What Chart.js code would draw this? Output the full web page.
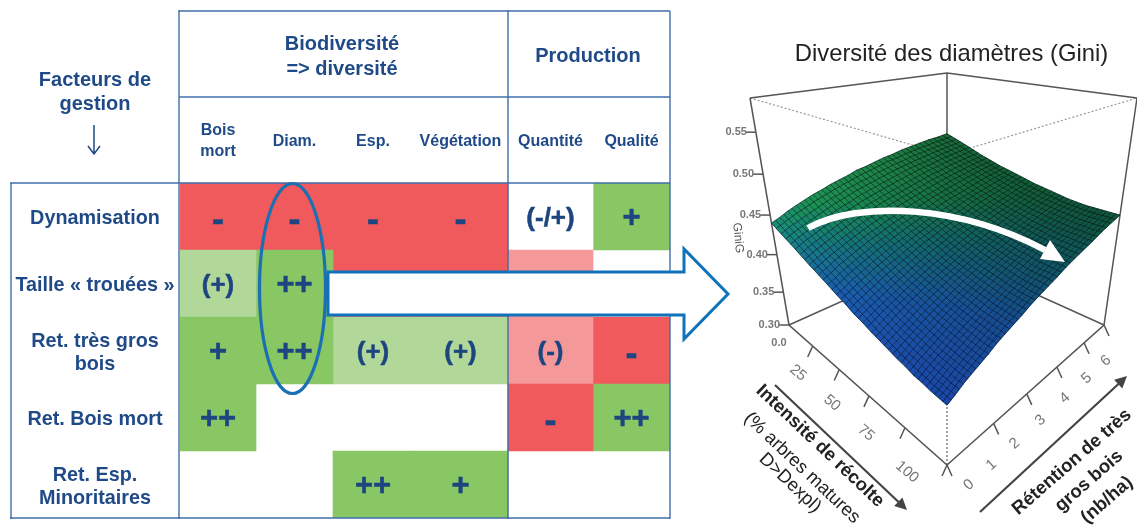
<!DOCTYPE html>
<html>
<head>
<meta charset="utf-8">
<title>Facteurs de gestion</title>
<script src="https://cdn.jsdelivr.net/npm/chart.js@4"></script>
<style>
  html, body { margin: 0; padding: 0; background: #fff; overflow: hidden; width: 1137px; height: 527px; }
  canvas { position: absolute; top: 0; }
</style>
</head>
<body>
<canvas id="tableChart" width="1137" height="527" style="left:0;width:1137px;height:527px"></canvas>
<canvas id="surfaceChart" width="503" height="527" style="left:700px;width:503px;height:527px"></canvas>
<script>
// table data
const factors = ['Dynamisation', 'Taille « trouées »', ['Ret. très gros', 'bois'], 'Ret. Bois mort', ['Ret. Esp.', 'Minoritaires']];
const responses = [['Bois', 'mort'], 'Diam.', 'Esp.', 'Végétation', 'Quantité', 'Qualité'];
const effects = [
  ['-', '-', '-', '-', '(-/+)', '+'],
  ['(+)', '++', '-', '-', '(-)', ''],
  ['+', '++', '(+)', '(+)', '(-)', '-'],
  ['++', '', '', '', '-', '++'],
  ['', '', '++', '+', '', '']
];

// surface data: GiniG x 1000, rows = harvest 0..100 by 5, columns = retention 0..6 by 0.3
const harvestGrid = [0, 5, 10, 15, 20, 25, 30, 35, 40, 45, 50, 55, 60, 65, 70, 75, 80, 85, 90, 95, 100];
const retentionGrid = [0, 0.3, 0.6, 0.9, 1.2, 1.5, 1.8, 2.1, 2.4, 2.7, 3, 3.3, 3.6, 3.9, 4.2, 4.5, 4.8, 5.1, 5.4, 5.7, 6];
const giniG = [
  [440, 444, 449, 453, 457, 461, 464, 468, 471, 474, 478, 480, 483, 486, 488, 491, 493, 495, 497, 498, 500],
  [433, 438, 442, 446, 450, 454, 458, 461, 465, 468, 471, 474, 477, 480, 482, 485, 487, 489, 491, 493, 495],
  [427, 432, 436, 440, 444, 448, 452, 455, 459, 462, 465, 468, 471, 474, 477, 479, 481, 484, 486, 488, 490],
  [421, 426, 430, 434, 438, 442, 446, 449, 453, 456, 459, 462, 465, 468, 471, 474, 476, 479, 481, 483, 485],
  [415, 420, 424, 428, 432, 436, 440, 444, 447, 451, 454, 457, 460, 463, 466, 469, 471, 474, 476, 478, 480],
  [410, 414, 419, 423, 427, 431, 435, 438, 442, 445, 449, 452, 455, 458, 461, 464, 467, 469, 472, 474, 476],
  [405, 409, 414, 418, 422, 426, 430, 433, 437, 441, 444, 447, 450, 454, 457, 459, 462, 465, 468, 470, 472],
  [400, 404, 409, 413, 417, 421, 425, 429, 432, 436, 439, 443, 446, 449, 452, 455, 458, 461, 464, 466, 469],
  [396, 400, 404, 408, 413, 417, 420, 424, 428, 432, 435, 439, 442, 445, 448, 452, 455, 457, 460, 463, 466],
  [391, 396, 400, 404, 408, 412, 416, 420, 424, 428, 431, 435, 438, 441, 445, 448, 451, 454, 457, 460, 463],
  [388, 392, 396, 400, 404, 408, 412, 416, 420, 424, 428, 431, 435, 438, 441, 445, 448, 451, 454, 457, 460],
  [384, 388, 393, 397, 401, 405, 409, 413, 417, 420, 424, 428, 431, 435, 438, 442, 445, 448, 452, 455, 458],
  [381, 385, 389, 393, 398, 402, 406, 410, 414, 417, 421, 425, 429, 432, 436, 439, 443, 446, 449, 452, 456],
  [378, 382, 386, 390, 395, 399, 403, 407, 411, 415, 418, 422, 426, 430, 433, 437, 440, 444, 447, 451, 454],
  [375, 379, 384, 388, 392, 396, 400, 404, 408, 412, 416, 420, 424, 427, 431, 435, 438, 442, 446, 449, 452],
  [373, 377, 381, 385, 389, 394, 398, 402, 406, 410, 414, 418, 422, 425, 429, 433, 437, 440, 444, 448, 451],
  [370, 375, 379, 383, 387, 392, 396, 400, 404, 408, 412, 416, 420, 424, 428, 432, 435, 439, 443, 447, 450],
  [369, 373, 377, 381, 386, 390, 394, 398, 402, 406, 410, 414, 418, 422, 426, 430, 434, 438, 442, 446, 450],
  [367, 371, 376, 380, 384, 388, 393, 397, 401, 405, 409, 413, 417, 421, 426, 430, 434, 438, 442, 446, 450],
  [366, 370, 374, 379, 383, 387, 391, 396, 400, 404, 408, 412, 417, 421, 425, 429, 433, 437, 441, 446, 450],
  [365, 369, 374, 378, 382, 386, 391, 395, 399, 403, 408, 412, 416, 420, 425, 429, 433, 437, 442, 446, 450]
];
const giniTicks = [0.30, 0.35, 0.40, 0.45, 0.50, 0.55];
const harvestLabels = ['25', '50', '75', '100'];
const retentionLabels = ['0', '1', '2', '3', '4', '5', '6'];

// layout
const colEdges = [180, 256, 333, 413, 508, 593, 670];
const blue = '#1f4a87';
const RED = '#f15a5c', PINK = '#f59899', GREEN = '#88c763', LIGHT = '#b2d899';
const cellColor = { '-': RED, '(-)': PINK, '(-/+)': '#ffffff', '+': GREEN, '++': GREEN, '(+)': LIGHT };

const tablePlugin = {
  id: 'tableDecor',
  // pin the row band to the frame of the table
  afterLayout(chart) {
    const y = chart.scales.y;
    y.top = 183;
    y.bottom = 518;
    y.height = 335;
    y.configure();
    chart.chartArea.top = 183;
    chart.chartArea.bottom = 518;
    chart.chartArea.height = 335;
  },
  afterDraw(chart) {
    const ctx = chart.ctx;
    const x = chart.scales.x;
    ctx.save();
    // frame
    ctx.strokeStyle = '#3f6ea8';
    ctx.lineWidth = 1.4;
    const lines = [[179, 11, 670, 11], [179, 97, 670, 97], [10, 183, 670, 183], [10, 518, 670, 518],
      [11, 183, 11, 519], [179, 10, 179, 519], [508, 10, 508, 519], [670, 11, 670, 519]];
    lines.forEach(l => { ctx.beginPath(); ctx.moveTo(l[0], l[1]); ctx.lineTo(l[2], l[3]); ctx.stroke(); });
    // header text
    ctx.fillStyle = blue;
    ctx.textAlign = 'center';
    ctx.textBaseline = 'middle';
    ctx.font = 'bold 20px "Liberation Sans"';
    ctx.fillText('Biodiversité', x.getPixelForValue(342), 44);
    ctx.fillText('=> diversité', x.getPixelForValue(342), 69);
    ctx.fillText('Production', x.getPixelForValue(588), 56);
    ctx.fillText('Facteurs de', 95, 80);
    ctx.fillText('gestion', 95, 104);
    ctx.strokeStyle = blue;
    ctx.lineWidth = 1.5;
    ctx.beginPath();
    ctx.moveTo(94, 125); ctx.lineTo(94, 153);
    ctx.moveTo(88, 146); ctx.lineTo(94, 154); ctx.lineTo(100, 146);
    ctx.stroke();
    // cell symbols
    ctx.fillStyle = '#1d4580';
    ctx.strokeStyle = '#1d4580';
    ctx.lineWidth = 0.5;
    effects.forEach((row, r) => row.forEach((sym, c) => {
      if (!sym || (r === 1 && c > 1)) return; // covered by the arrow
      const p = chart.getDatasetMeta(c).data[r].getCenterPoint();
      const dy = sym === '-' ? 5 : 2;
      ctx.font = (sym.includes('(') ? 'bold 26px' : sym === '-' ? 'bold 36px' : 'bold 31px') + ' "Liberation Sans"';
      ctx.fillText(sym, p.x, p.y + dy);
      ctx.strokeText(sym, p.x, p.y + dy);
    }));
    // big arrow
    ctx.beginPath();
    ctx.moveTo(328, 272); ctx.lineTo(684, 272); ctx.lineTo(684, 249); ctx.lineTo(728, 294);
    ctx.lineTo(684, 339); ctx.lineTo(684, 315); ctx.lineTo(328, 315); ctx.closePath();
    ctx.fillStyle = '#fff';
    ctx.fill();
    ctx.strokeStyle = '#0f72ba';
    ctx.lineWidth = 3;
    ctx.stroke();
    // oval round the Diam. column
    ctx.strokeStyle = '#1b6fb3';
    ctx.lineWidth = 3.2;
    ctx.beginPath();
    ctx.ellipse(292.5, 288.5, 33, 105, 0, 0, Math.PI * 2);
    ctx.stroke();
    ctx.restore();
  }
};

new Chart(document.getElementById('tableChart'), {
  type: 'bar',
  data: {
    labels: factors,
    datasets: responses.map((name, c) => ({
      label: Array.isArray(name) ? name.join(' ') : name,
      data: effects.map(row => row[c] ? [colEdges[c], colEdges[c + 1]] : null),
      backgroundColor: effects.map(row => cellColor[row[c]] || '#fff'),
      borderWidth: 0,
      grouped: false,
      barPercentage: 1,
      categoryPercentage: 1
    }))
  },
  options: {
    indexAxis: 'y',
    responsive: false,
    animation: false,
    events: [],
    layout: { padding: { left: 10, top: 97, right: 467, bottom: 9 } },
    plugins: { legend: { display: false }, title: { display: false }, tooltip: { enabled: false } },
    scales: {
      x: {
        type: 'linear',
        position: 'top',
        min: 180,
        max: 670,
        grid: { display: false, drawTicks: false },
        border: { display: false },
        afterBuildTicks(scale) {
          scale.ticks = responses.map((r, c) => ({ value: (colEdges[c] + colEdges[c + 1]) / 2 }));
        },
        afterFit(scale) { scale.height = 86; },
        ticks: {
          autoSkip: false,
          maxRotation: 0,
          minRotation: 0,
          padding: 31,
          crossAlign: 'center',
          color: blue,
          font: { family: 'Liberation Sans', size: 16, weight: 'bold', lineHeight: 1.35 },
          callback: (v, i) => responses[i]
        }
      },
      y: {
        type: 'category',
        grid: { display: false, drawTicks: false },
        border: { display: false },
        afterFit(scale) { scale.width = 170; },
        ticks: {
          autoSkip: false,
          padding: 5.5,
          labelOffset: 2.5,
          crossAlign: 'center',
          color: blue,
          font: { family: 'Liberation Sans', size: 19.8, weight: 'bold', lineHeight: 1.2 }
        }
      }
    }
  },
  plugins: [tablePlugin]
});

// persp box corners on the page: left, front, right, back
const baseBox = [[789, 325], [947, 465], [1104, 325], [947, 254]];
const topBox = [[750, 98], [947, 155], [1137, 98], [947, 73]];

function bilinear(box, u, v, k) {
  return (1 - u) * (1 - v) * box[0][k] + u * (1 - v) * box[1][k] + u * v * box[2][k] + (1 - u) * v * box[3][k];
}
function project(u, v, g) {
  const f = Math.pow(Math.max(g - 0.3, 0) / 0.29, 1.1);
  return {
    x: bilinear(baseBox, u, v, 0) + f * (bilinear(topBox, u, v, 0) - bilinear(baseBox, u, v, 0)),
    y: bilinear(baseBox, u, v, 1) + f * (bilinear(topBox, u, v, 1) - bilinear(baseBox, u, v, 1))
  };
}

const gridPoints = [];
giniG.forEach((row, i) => row.forEach((g, j) => {
  gridPoints.push(project(harvestGrid[i] / 100, retentionGrid[j] / 6, g / 1000));
}));

function seg(points, width, color, dash) {
  return { data: points, showLine: true, pointRadius: 0, borderWidth: width, borderColor: color, borderDash: dash || [], clip: false };
}
const AXIS = '#555555';
const axisLines = [
  seg([{ x: 750, y: 98 }, { x: 947, y: 73 }, { x: 1137, y: 98 }], 1.5, AXIS),
  seg([{ x: 750, y: 98 }, { x: 789, y: 325 }, { x: 947, y: 465 }, { x: 1104, y: 325 }, { x: 1137, y: 98 }], 1.5, AXIS),
  seg([{ x: 947, y: 73 }, { x: 947, y: 254 }], 1.5, AXIS),
  seg([{ x: 789, y: 325 }, { x: 947, y: 254 }, { x: 1104, y: 325 }], 1.5, AXIS),
  seg([{ x: 750, y: 98 }, { x: 947, y: 155 }, { x: 1137, y: 98 }], 1.2, '#999999', [2, 2]),
  seg([{ x: 947, y: 155 }, { x: 947, y: 465 }], 1.4, '#777777', [2, 2])
];
// ticks on the three axes
giniTicks.forEach(g => {
  const p = project(0, 0, g);
  axisLines.push(seg([p, { x: p.x - 10, y: p.y }], 1.5, AXIS));
});
[0.15, 0.318, 0.506, 0.734, 1].forEach(f => {
  const p = project(f, 0, 0.3);
  axisLines.push(seg([p, { x: p.x - 5, y: p.y + 11 }], 1.5, AXIS));
});
[0, 0.297, 0.508, 0.70, 0.873, 1].forEach(f => {
  const p = project(1, f, 0.3);
  axisLines.push(seg([p, { x: p.x + 5, y: p.y + 11 }], 1.5, AXIS));
});

// colour ramp of the surface, blue to green with height, darker toward the back right
function surfaceColor(g, v) {
  const stops = [[365, 26, 70, 165], [400, 26, 92, 175], [430, 22, 128, 130], [455, 30, 160, 90], [500, 44, 190, 90]];
  let a = stops[0], b = stops[1];
  for (let s = 0; s < stops.length - 1; s++) {
    if (g >= stops[s][0]) { a = stops[s]; b = stops[s + 1]; }
  }
  const t = (g - a[0]) / (b[0] - a[0]);
  const shade = 1 - 0.45 * v;
  return 'rgb(' + [1, 2, 3].map(k => Math.round((a[k] + t * (b[k] - a[k])) * shade)).join(',') + ')';
}

function rotatedText(ctx, text, x, y, deg, font, color) {
  ctx.save();
  ctx.translate(x, y);
  ctx.rotate(deg * Math.PI / 180);
  ctx.font = font;
  ctx.fillStyle = color;
  ctx.textAlign = 'center';
  ctx.textBaseline = 'middle';
  ctx.fillText(text, 0, 0);
  ctx.restore();
}

function arrowLine(ctx, x0, y0, x1, y1) {
  const a = Math.atan2(y1 - y0, x1 - x0);
  ctx.beginPath();
  ctx.moveTo(x0, y0);
  ctx.lineTo(x1 - 8 * Math.cos(a), y1 - 8 * Math.sin(a));
  ctx.stroke();
  ctx.beginPath();
  ctx.moveTo(x1, y1);
  ctx.lineTo(x1 - 12 * Math.cos(a) + 6 * Math.sin(a), y1 - 12 * Math.sin(a) - 6 * Math.cos(a));
  ctx.lineTo(x1 - 12 * Math.cos(a) - 6 * Math.sin(a), y1 - 12 * Math.sin(a) + 6 * Math.cos(a));
  ctx.closePath();
  ctx.fill();
}

const surfacePlugin = {
  id: 'surfaceMesh',
  afterDatasetsDraw(chart) {
    const ctx = chart.ctx;
    const pts = chart.getDatasetMeta(chart.data.datasets.length - 1).data;
    const n = giniG[0].length;
    const at = (i, j) => pts[i * n + j];
    const mid = (a, b) => ({ x: (a.x + b.x) / 2, y: (a.y + b.y) / 2 });
    ctx.save();
    // cells
    for (let i = 0; i < giniG.length - 1; i++) {
      for (let j = 0; j < n - 1; j++) {
        const g = (giniG[i][j] + giniG[i + 1][j] + giniG[i][j + 1] + giniG[i + 1][j + 1]) / 4;
        ctx.fillStyle = surfaceColor(g, retentionGrid[j] / 6);
        ctx.strokeStyle = ctx.fillStyle;
        ctx.lineWidth = 0.6;
        ctx.beginPath();
        ctx.moveTo(at(i, j).x, at(i, j).y);
        ctx.lineTo(at(i + 1, j).x, at(i + 1, j).y);
        ctx.lineTo(at(i + 1, j + 1).x, at(i + 1, j + 1).y);
        ctx.lineTo(at(i, j + 1).x, at(i, j + 1).y);
        ctx.closePath();
        ctx.fill();
        ctx.stroke();
      }
    }
    // mesh lines, twice as fine as the value grid
    ctx.strokeStyle = 'rgba(0,8,24,0.6)';
    ctx.lineWidth = 0.9;
    ctx.beginPath();
    for (let i = 0; i < giniG.length; i++) {
      for (let j = 0; j < n - 1; j++) {
        ctx.moveTo(at(i, j).x, at(i, j).y);
        ctx.lineTo(at(i, j + 1).x, at(i, j + 1).y);
        if (i < giniG.length - 1) {
          const a = mid(at(i, j), at(i + 1, j)), b = mid(at(i, j + 1), at(i + 1, j + 1));
          ctx.moveTo(a.x, a.y);
          ctx.lineTo(b.x, b.y);
        }
      }
    }
    for (let j = 0; j < n; j++) {
      for (let i = 0; i < giniG.length - 1; i++) {
        ctx.moveTo(at(i, j).x, at(i, j).y);
        ctx.lineTo(at(i + 1, j).x, at(i + 1, j).y);
        if (j < n - 1) {
          const a = mid(at(i, j), at(i, j + 1)), b = mid(at(i + 1, j), at(i + 1, j + 1));
          ctx.moveTo(a.x, a.y);
          ctx.lineTo(b.x, b.y);
        }
      }
    }
    ctx.stroke();
    // everything below is placed in page coordinates
    ctx.translate(-chart.scales.x.min, 0);
    // white arrow on the surface
    ctx.strokeStyle = '#fff';
    ctx.fillStyle = '#fff';
    ctx.lineWidth = 6.5;
    ctx.beginPath();
    ctx.moveTo(808, 228);
    ctx.bezierCurveTo(860, 200, 960, 205, 1045, 250);
    ctx.stroke();
    ctx.beginPath();
    ctx.moveTo(1065, 262); ctx.lineTo(1050, 240); ctx.lineTo(1040, 259);
    ctx.closePath();
    ctx.fill();
    // tick labels
    ctx.fillStyle = '#777';
    ctx.font = 'bold 11px "Liberation Sans"';
    ctx.textAlign = 'right';
    ctx.textBaseline = 'middle';
    giniTicks.forEach(g => {
      const p = project(0, 0, g);
      ctx.fillText(g.toFixed(2), p.x - 9, p.y);
    });
    ctx.textAlign = 'center';
    ctx.fillText('0.0', 779, 343);
    rotatedText(ctx, 'GiniG', 738, 238, 85, '12px "Liberation Sans"', '#555');
    const harvestAt = [[798, 373], [832, 403], [866, 433], [907, 472]];
    harvestLabels.forEach((t, i) => rotatedText(ctx, t, harvestAt[i][0], harvestAt[i][1], 41, '15px "Liberation Sans"', '#777'));
    const retentionFrac = [0, 0.163, 0.334, 0.522, 0.70, 0.859, 1];
    retentionLabels.forEach((t, i) => {
      rotatedText(ctx, t, 969 + 137 * retentionFrac[i], 485 - 124 * retentionFrac[i], -41, '15px "Liberation Sans"', '#777');
    });
    // axis titles
    rotatedText(ctx, 'Intensité de récolte', 820, 446, 43.5, 'bold 18.5px "Liberation Sans"', '#222');
    rotatedText(ctx, '(% arbres matures', 802, 468, 43.5, '18.5px "Liberation Sans"', '#222');
    rotatedText(ctx, 'D>Dexpl)', 790, 483, 43.5, '18.5px "Liberation Sans"', '#222');
    rotatedText(ctx, 'Rétention de très', 1072, 462, -41, 'bold 18.5px "Liberation Sans"', '#222');
    rotatedText(ctx, 'gros bois', 1089, 481, -41, 'bold 18.5px "Liberation Sans"', '#222');
    rotatedText(ctx, '(nb/ha)', 1107, 500, -41, 'bold 18.5px "Liberation Sans"', '#222');
    ctx.strokeStyle = '#444';
    ctx.fillStyle = '#444';
    ctx.lineWidth = 2.2;
    arrowLine(ctx, 775, 385, 907, 510);
    arrowLine(ctx, 980, 512, 1127, 376);
    ctx.restore();
  }
};

new Chart(document.getElementById('surfaceChart'), {
  type: 'scatter',
  data: {
    datasets: axisLines.concat([{ label: 'GiniG', data: gridPoints, pointRadius: 0, showLine: false, clip: false }])
  },
  options: {
    responsive: false,
    animation: false,
    events: [],
    layout: { padding: 0 },
    plugins: {
      legend: { display: false },
      tooltip: { enabled: false },
      title: {
        display: true,
        text: 'Diversité des diamètres (Gini)',
        color: '#222',
        padding: { top: 40, bottom: 4.44 },
        font: { family: 'Liberation Sans', size: 23.8, weight: 'normal', lineHeight: 1.2 }
      }
    },
    scales: {
      x: { type: 'linear', display: false, min: 700, max: 1203 },
      y: { type: 'linear', display: false, min: 73, max: 527, reverse: true }
    }
  },
  plugins: [surfacePlugin]
});
</script>
</body>
</html>
